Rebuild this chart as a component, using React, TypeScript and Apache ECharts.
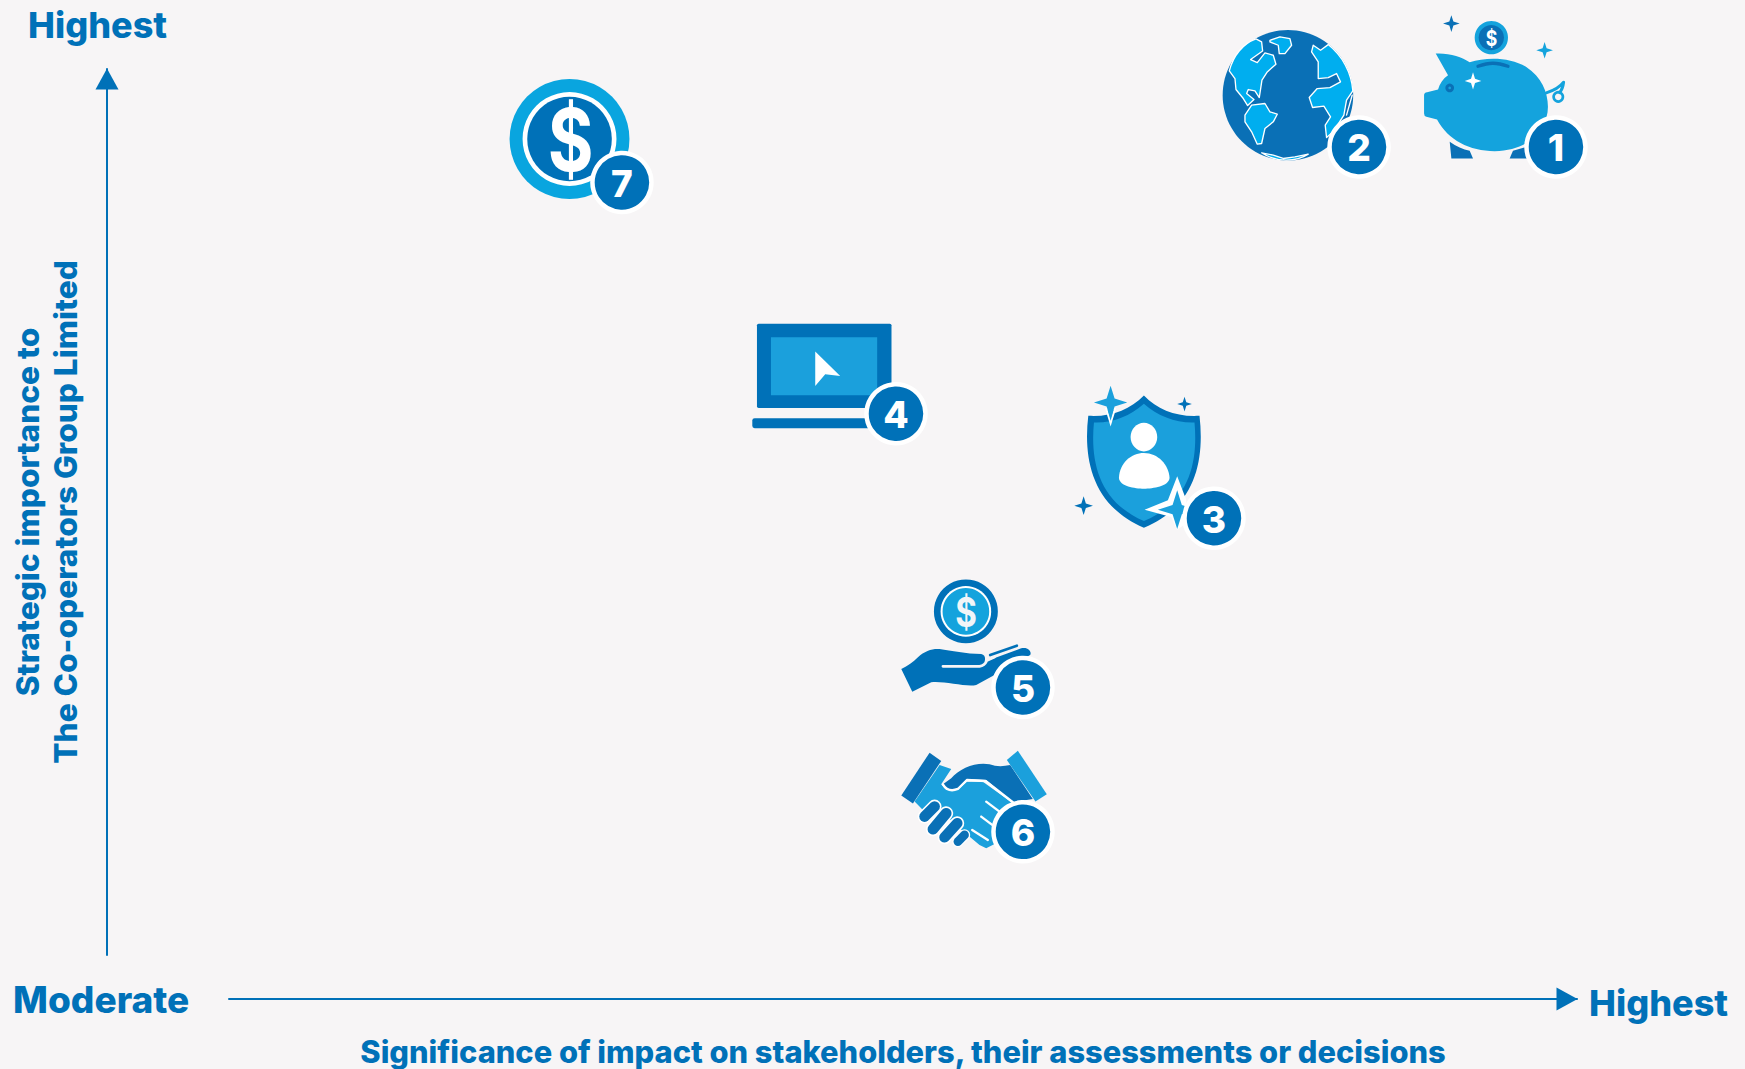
import React, { useEffect, useRef } from "react";
import * as echarts from "echarts";

const topicLabels = ["1", "2", "3", "4", "5", "6", "7"];
const significance = [98.44, 83.83, 73.07, 49.48, 58.9, 58.9, 29.15];
const importance = [91.2, 91.2, 49.3, 61.1, 30.2, 13.9, 87.2];
const xAxisTitle = "Significance of impact on stakeholders, their assessments or decisions";
const yAxisTitle = "Strategic importance to\nThe Co-operators Group Limited";
const xLowLabel = "Moderate";
const xHighLabel = "Highest";
const yHighLabel = "Highest";

const BG = "#f7f5f6";
const DARK = "#0071b8";
const DEEP = "#0a70b6";
const LIGHT = "#1ba0dc";
const PIG = "#14a3dd";
const SKY = "#00aeef";
const WHITE = "#ffffff";
const FONT = "Inter, sans-serif";

const star = (cx: number, cy: number, rx: number, ry: number, k = 0.24) => {
  const a = rx * k, b = ry * k;
  return `M${cx} ${cy - ry}L${cx + a} ${cy - b}L${cx + rx} ${cy}L${cx + a} ${cy + b}L${cx} ${cy + ry}L${cx - a} ${cy + b}L${cx - rx} ${cy}L${cx - a} ${cy - b}Z`;
};
const p = (d: string, fill: string, stroke?: string, lineWidth?: number) => ({
  type: "path",
  shape: { pathData: d },
  style: { fill, stroke: stroke || "none", lineWidth: lineWidth || 0, lineJoin: "round", lineCap: "round" },
});
const line = (d: string, stroke: string, lineWidth: number) => p(d, "none", stroke, lineWidth);
const circ = (cx: number, cy: number, r: number, fill: string, stroke?: string, lineWidth?: number) => ({
  type: "circle",
  shape: { cx, cy, r },
  style: { fill, stroke: stroke || "none", lineWidth: lineWidth || 0 },
});
const dollar = (x: number, y: number, size: number, fill = WHITE) => ({
  type: "group",
  x,
  y,
  scaleX: 0.8,
  children: [
    {
      type: "text",
      style: { text: "$", x: 0, y: 0, fill, font: `700 ${size}px ${FONT}`, align: "center", verticalAlign: "middle" },
    },
  ],
});

// Pictograms: drawn in 3x local units, anchored on the badge of each topic.
const piggy = {
  bx: 1128, by: 440,
  shapes: [
    p("M810 425C830 440 850 448 870 452L880 475L815 475Z", DEEP),
    p("M1040 440L1000 452L990 475L1050 475Z", DEEP),
    p("M768 160C810 158 845 170 870 186C920 170 990 170 1040 200C1085 230 1105 275 1105 320C1105 385 1050 453 945 453C870 453 805 420 772 358L740 350Q733 348 733 340L733 285Q733 277 742 276L775 268C780 250 790 235 805 225Z", PIG),
    line("M895 198C930 186 950 186 985 198", DEEP, 10),
    circ(810, 263, 13, DEEP),
    circ(810, 263, 4, PIG),
    p(star(880, 242, 25, 26), WHITE),
    p(star(815, 70, 25, 25), DEEP),
    p(star(1095, 150, 25, 25), PIG),
    line("M1100 278C1120 272 1140 262 1152 246C1150 262 1146 270 1140 277", PIG, 9),
    circ(1136, 290, 14, "none", PIG, 8),
    circ(935, 112, 50, PIG),
    circ(935, 112, 38, DEEP),
    dollar(935, 113, 66),
  ],
};
const globe = {
  bx: 537, by: 440,
  shapes: [
    circ(324, 285, 196, DEEP),
    p("M148 212L165 235L168 268L190 295L203 316L222 298L200 280L205 268L225 272L238 292L246 240L262 215L288 192L280 165L255 158L232 187L212 178L248 152L245 125L228 116C190 130 160 165 148 212Z", SKY, WHITE, 4),
    p("M270 120L300 110L330 115L335 135L315 160L298 160L295 135L270 125Z", SKY, WHITE, 4),
    p("M195 345L215 315L255 310L270 335L292 342L280 365L255 385L245 430L232 432L215 395L195 365Z", SKY, WHITE, 4),
    p("M445 133A196 196 0 0 1 519 272L500 300L492 345L460 395L440 412L436 375L452 350L432 318L398 322L388 292L412 265L450 262L482 245L470 220L445 232L415 235L415 185L395 155L400 135L422 150Z", SKY, WHITE, 4),
    p("M245 458L280 465L310 475L345 470L385 462C350 485 290 488 245 458Z", SKY, WHITE, 4),
    line("M517 285L500 345", WHITE, 4),
  ],
};
const shield = {
  bx: 1452, by: 625,
  shapes: [
    p("M1243 257C1285 300 1340 322 1410 318C1425 450 1400 590 1243 654C1090 590 1060 450 1076 318C1145 322 1200 300 1243 257Z", DARK),
    p("M1243 282C1285 320 1340 340 1395 338C1405 450 1385 575 1243 634C1105 575 1082 450 1093 338C1150 340 1200 320 1243 282Z", LIGHT),
    { type: "ellipse", shape: { cx: 1243, cy: 382, rx: 40, ry: 43 }, style: { fill: WHITE } },
    p("M1168 505C1170 460 1205 430 1243 430C1285 430 1318 465 1320 505C1318 530 1270 537 1243 537C1215 537 1170 530 1168 505Z", WHITE),
    p("M1126 295L1143 350L1160 295Z", WHITE),
    p(star(1143, 278, 50, 50), LIGHT),
    p("M1143 300L1152 300L1143 333L1134 300Z", LIGHT),
    p("M1343 500L1370 570L1372 640L1343 660L1325 622L1245 600L1315 572Z", WHITE),
    p(star(1343, 600, 58, 58), LIGHT),
    p(star(1365, 283, 22, 22), DARK),
    p(star(1062, 588, 28, 28), DARK),
  ],
};
const laptop = {
  bx: 497, by: 313,
  shapes: [
    { type: "rect", shape: { x: 80, y: 43, width: 404, height: 253, r: 5 }, style: { fill: DARK } },
    { type: "rect", shape: { x: 122, y: 84, width: 319, height: 174 }, style: { fill: LIGHT } },
    p("M255 127L330 200L285 195L255 230Z", WHITE),
    { type: "rect", shape: { x: 66, y: 327, width: 370, height: 30, r: 7 }, style: { fill: DARK } },
  ],
};
const handCoin = {
  bx: 430, by: 365,
  shapes: [
    circ(259, 137, 96, DARK),
    circ(259, 137, 76, WHITE),
    circ(259, 137, 70, PIG),
    dollar(259, 138, 124, "#f1f5f8"),
    p("M65 310C85 300 100 290 115 275C135 255 160 248 180 250C215 255 260 265 305 265C318 268 318 280 315 288L425 248C445 242 458 258 452 268L360 320L290 358C260 365 190 345 155 350L98 378Z", DARK),
    line("M190 302L300 302Q315 300 322 285L345 274", BG, 8),
    line("M332 268L412 240", DARK, 8),
  ],
};
const handshake = {
  bx: 430, by: 800,
  shapes: [
    p("M180 600L215 612L185 658L200 675L240 670L262 650L310 650L400 715L440 760L360 830L320 850L300 840L240 790L165 720L130 735L105 710Z", LIGHT),
    line("M320 710L360 740", WHITE, 7),
    line("M305 755L345 785", WHITE, 7),
    line("M278 795L325 825", WHITE, 7),
    p("M215 640C240 610 290 590 330 598C350 605 370 605 392 600L460 702L400 712L320 645L262 642L235 672C215 680 200 675 190 658Z", DEEP),
    line("M190 658C200 675 215 680 235 672L262 645L318 648L400 712", WHITE, 7),
    p("M150 563L185 588L100 716L65 692Z", DEEP),
    p("M415 557L502 688L468 710L382 585Z", LIGHT),
    line("M135 755L165 725", WHITE, 42),
    line("M160 793L200 745", WHITE, 42),
    line("M195 817L233 775", WHITE, 42),
    line("M235 830L255 810", WHITE, 34),
    line("M135 755L165 725", DEEP, 32),
    line("M160 793L200 745", DEEP, 32),
    line("M195 817L233 775", DEEP, 32),
    line("M235 830L255 810", DEEP, 26),
  ],
};
const coin = {
  bx: 397, by: 365,
  shapes: [
    circ(240, 235, 180, "#09a5df"),
    circ(240, 235, 141, WHITE),
    circ(240, 235, 127, DARK),
    dollar(243, 235, 262),
  ],
};
const icons = [piggy, globe, shield, laptop, handCoin, handshake, coin];

const renderItem = (params: any, api: any) => {
  const i = params.dataIndex;
  const c = api.coord([api.value(0), api.value(1)]);
  const icon = icons[i];
  return {
    type: "group",
    x: c[0],
    y: c[1],
    children: [
      {
        type: "group",
        x: -icon.bx / 3,
        y: -icon.by / 3,
        scaleX: 1 / 3,
        scaleY: 1 / 3,
        children: icon.shapes,
      },
      { type: "circle", shape: { cx: 0, cy: 0, r: 29.5 }, style: { fill: DARK, stroke: WHITE, lineWidth: 4.5 } },
      {
        type: "text",
        style: {
          text: topicLabels[i], x: 0, y: 1, fill: WHITE,
          font: `800 37px ${FONT}`, align: "center", verticalAlign: "middle",
        },
      },
    ],
  };
};

export default function App() {
  const ref = useRef<HTMLDivElement>(null);
  useEffect(() => {
    const chart = echarts.init(ref.current!, null, { renderer: "svg" });
    const axisLine = (arrow: number[]) => ({
      show: true,
      onZero: false,
      symbol: ["none", "triangle"],
      symbolSize: arrow,
      symbolOffset: [0, -10],
      lineStyle: { color: DARK, width: 2 },
    });
    chart.setOption({
      animation: false,
      backgroundColor: BG,
      grid: { left: 229, top: 69, width: 1348, height: 886, outerBoundsMode: "none", containLabel: false },
      xAxis: {
        type: "value", min: 0, max: 100, offset: 44,
        axisLine: axisLine([23, 21]), axisTick: { show: false }, axisLabel: { show: false }, splitLine: { show: false },
        name: xAxisTitle, nameLocation: "middle", nameGap: 37,
        nameTextStyle: { color: DARK, fontFamily: FONT, fontWeight: 800, fontSize: 30.8 },
      },
      yAxis: {
        type: "value", min: 0, max: 100, offset: 122,
        axisLine: axisLine([23, 21]), axisTick: { show: false }, axisLabel: { show: false }, splitLine: { show: false },
        name: yAxisTitle, nameLocation: "middle", nameGap: 23, nameRotate: 90,
        nameTextStyle: { color: DARK, fontFamily: FONT, fontWeight: 800, fontSize: 31.6, lineHeight: 38, align: "center" },
      },
      graphic: [
        { type: "text", style: { text: xLowLabel, x: 13, y: 999, fill: DARK, font: `800 37px ${FONT}`, verticalAlign: "middle" } },
        { type: "text", style: { text: xHighLabel, x: 1589, y: 1003, fill: DARK, font: `800 36px ${FONT}`, verticalAlign: "middle" } },
        { type: "text", style: { text: yHighLabel, x: 28, y: 25, fill: DARK, font: `800 36px ${FONT}`, verticalAlign: "middle" } },
      ],
      series: [
        {
          type: "custom",
          coordinateSystem: "cartesian2d",
          renderItem,
          data: significance.map((s, i) => [s, importance[i]]),
          silent: true,
        },
      ],
    });
    return () => chart.dispose();
  }, []);
  return <div ref={ref} style={{ position: "fixed", left: 0, top: 0, width: 1745, height: 1069 }} />;
}
